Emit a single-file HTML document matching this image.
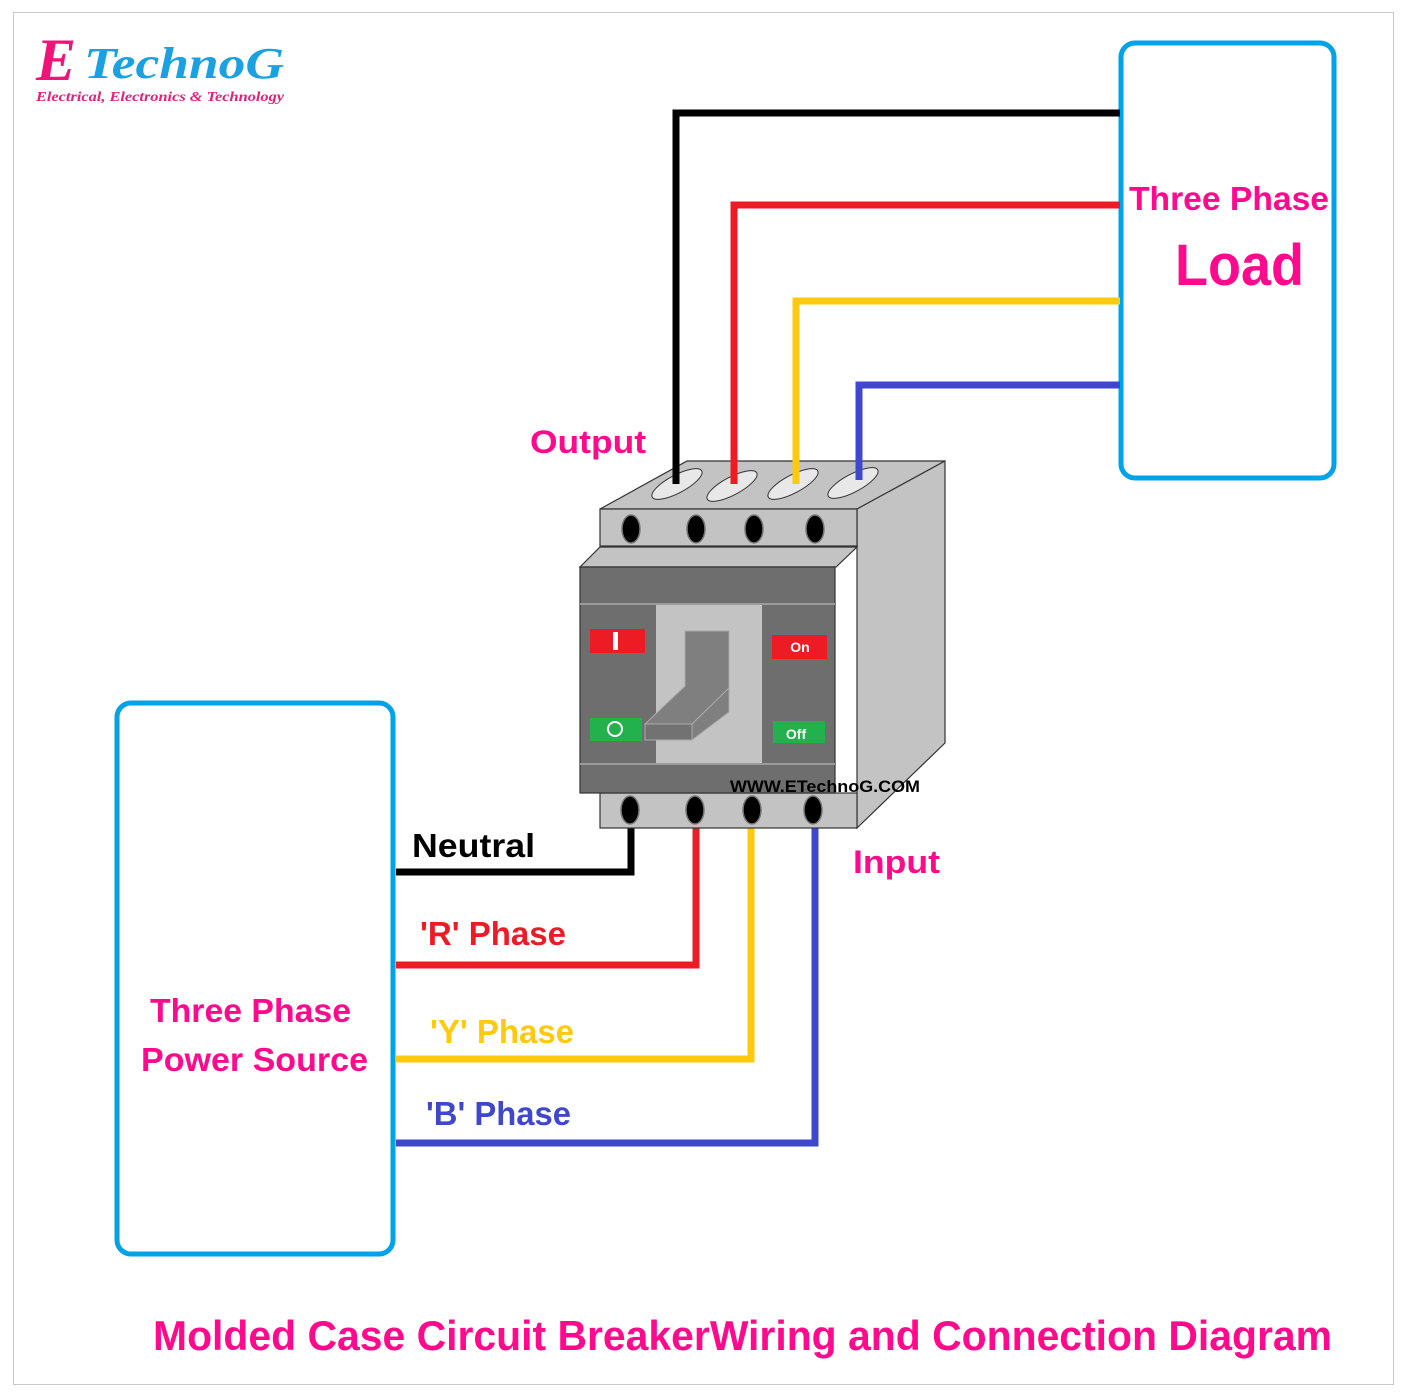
<!DOCTYPE html>
<html><head><meta charset="utf-8"><style>
html,body{margin:0;padding:0;background:#fff;}
svg{display:block;}
text{font-family:"Liberation Sans",sans-serif;font-weight:bold;}
.ser{font-family:"Liberation Serif",serif;font-style:italic;}
</style></head><body>
<svg width="1413" height="1397" viewBox="0 0 1413 1397" xmlns="http://www.w3.org/2000/svg">
<rect x="13.5" y="12.5" width="1380" height="1372" fill="#fff" stroke="#c8c8c8" stroke-width="1"/>
<!-- logo -->
<text class="ser" x="36" y="80" font-size="60" fill="#f0147a">E</text>
<text class="ser" x="84" y="78" font-size="44" fill="#1ba1e2" textLength="200" lengthAdjust="spacingAndGlyphs">TechnoG</text>
<text class="ser" x="36" y="101" font-weight="normal" font-size="14" fill="#e0207a" textLength="248" lengthAdjust="spacingAndGlyphs">Electrical, Electronics &amp; Technology</text>
<!-- boxes -->
<rect x="1121" y="43" width="213" height="435" rx="14" fill="none" stroke="#00a2e8" stroke-width="5"/>
<rect x="117" y="703" width="276" height="551" rx="14" fill="none" stroke="#00a2e8" stroke-width="5"/>
<!-- bottom wires -->
<g fill="none" stroke-width="7" stroke-linejoin="miter">
<polyline points="631,828 631,872 396,872" stroke="#000"/>
<polyline points="696,828 696,965 396,965" stroke="#ed1c24"/>
<polyline points="751,828 751,1059 396,1059" stroke="#ffc90e"/>
<polyline points="815,828 815,1143 396,1143" stroke="#3f48cc"/>
</g>
<!-- breaker -->
<g stroke="#333" stroke-width="1.2">
<polygon points="600,509 687,461 945,461 857,509" fill="#c3c3c3"/>
<polygon points="857,509 945,461 945,743 857,828" fill="#c3c3c3"/>
<rect x="600" y="509" width="257" height="37" fill="#c3c3c3"/>
<polygon points="580,567 600,547 857,547 836,567" fill="#c3c3c3"/>
<rect x="600" y="793" width="257" height="35" fill="#c3c3c3"/>
<rect x="580" y="567" width="255" height="226" fill="#6e6e6e"/>
</g>
<line x1="580" y1="604" x2="835" y2="604" stroke="#9a9a9a" stroke-width="2"/>
<line x1="580" y1="764" x2="835" y2="764" stroke="#9a9a9a" stroke-width="2"/>
<rect x="656" y="605" width="106" height="158" fill="#c3c3c3"/>
<!-- slots -->
<g fill="#e8e8e8" stroke="#333" stroke-width="1">
<ellipse cx="677" cy="484" rx="28" ry="9" transform="rotate(-28 677 484)"/>
<ellipse cx="732" cy="486" rx="28" ry="9" transform="rotate(-28 732 486)"/>
<ellipse cx="793" cy="484" rx="28" ry="9" transform="rotate(-28 793 484)"/>
<ellipse cx="853" cy="483" rx="28" ry="9" transform="rotate(-28 853 483)"/>
</g>
<!-- top wires -->
<g fill="none" stroke-width="7" stroke-linejoin="miter">
<polyline points="676,484 676,113 1120,113" stroke="#000"/>
<polyline points="734,484 734,205 1120,205" stroke="#ed1c24"/>
<polyline points="796,484 796,301 1120,301" stroke="#ffc90e"/>
<polyline points="859,480 859,385 1120,385" stroke="#3f48cc"/>
</g>
<g fill="#000" stroke="#777" stroke-width="1.5">
<ellipse cx="631" cy="529" rx="9" ry="14"/><ellipse cx="696" cy="529" rx="9" ry="14"/>
<ellipse cx="754" cy="529" rx="9" ry="14"/><ellipse cx="815" cy="529" rx="9" ry="14"/>
<ellipse cx="630" cy="810" rx="9" ry="14"/><ellipse cx="695" cy="810" rx="9" ry="14"/>
<ellipse cx="752" cy="810" rx="9" ry="14"/><ellipse cx="813" cy="810" rx="9" ry="14"/>
</g>
<!-- lever -->
<g fill="#7f7f7f" stroke="#aaa" stroke-width="1">
<polygon points="685,631 729,631 729,688 692,724 645,724 685,686"/>
<polygon points="692,724 729,688 729,712 692,740"/>
<rect x="645" y="724" width="47" height="16" fill="#727272"/>
</g>
<rect x="590" y="629" width="55" height="24" fill="#ed1c24"/>
<rect x="613" y="632" width="5" height="18" fill="#fff"/>
<rect x="590" y="718" width="52" height="23" fill="#22b14c"/>
<circle cx="615" cy="729" r="7" fill="none" stroke="#fff" stroke-width="2"/>
<rect x="772" y="635" width="55" height="24" fill="#ed1c24"/>
<text x="800" y="652" font-size="14" fill="#fff" text-anchor="middle">On</text>
<rect x="773" y="721" width="52" height="22" fill="#22b14c"/>
<text x="796" y="739" font-size="14" fill="#fff" text-anchor="middle">Off</text>
<text x="730" y="792" font-size="17" fill="#000" textLength="190" lengthAdjust="spacingAndGlyphs">WWW.ETechnoG.COM</text>
<!-- labels -->
<text x="530" y="453" font-size="32" fill="#ff0a8c" textLength="116" lengthAdjust="spacingAndGlyphs">Output</text>
<text x="853" y="873" font-size="32" fill="#ff0a8c" textLength="87" lengthAdjust="spacingAndGlyphs">Input</text>
<text x="1129" y="210" font-size="33" fill="#ff0a8c" textLength="200" lengthAdjust="spacingAndGlyphs">Three Phase</text>
<text x="1175" y="285" font-size="58" fill="#ff0a8c" textLength="129" lengthAdjust="spacingAndGlyphs">Load</text>
<text x="150" y="1022" font-size="33" fill="#ff0a8c" textLength="201" lengthAdjust="spacingAndGlyphs">Three Phase</text>
<text x="141" y="1071" font-size="33" fill="#ff0a8c" textLength="227" lengthAdjust="spacingAndGlyphs">Power Source</text>
<text x="412" y="857" font-size="33" fill="#000" textLength="123" lengthAdjust="spacingAndGlyphs">Neutral</text>
<text x="420" y="945" font-size="33" fill="#ed1c24" textLength="146" lengthAdjust="spacingAndGlyphs">'R' Phase</text>
<text x="430" y="1043" font-size="33" fill="#ffc90e" textLength="144" lengthAdjust="spacingAndGlyphs">'Y' Phase</text>
<text x="426" y="1125" font-size="33" fill="#3f48cc" textLength="145" lengthAdjust="spacingAndGlyphs">'B' Phase</text>
<text x="153" y="1350" font-size="42" fill="#ff0a8c" textLength="1179" lengthAdjust="spacingAndGlyphs">Molded Case Circuit BreakerWiring and Connection Diagram</text>
</svg>
</body></html>
